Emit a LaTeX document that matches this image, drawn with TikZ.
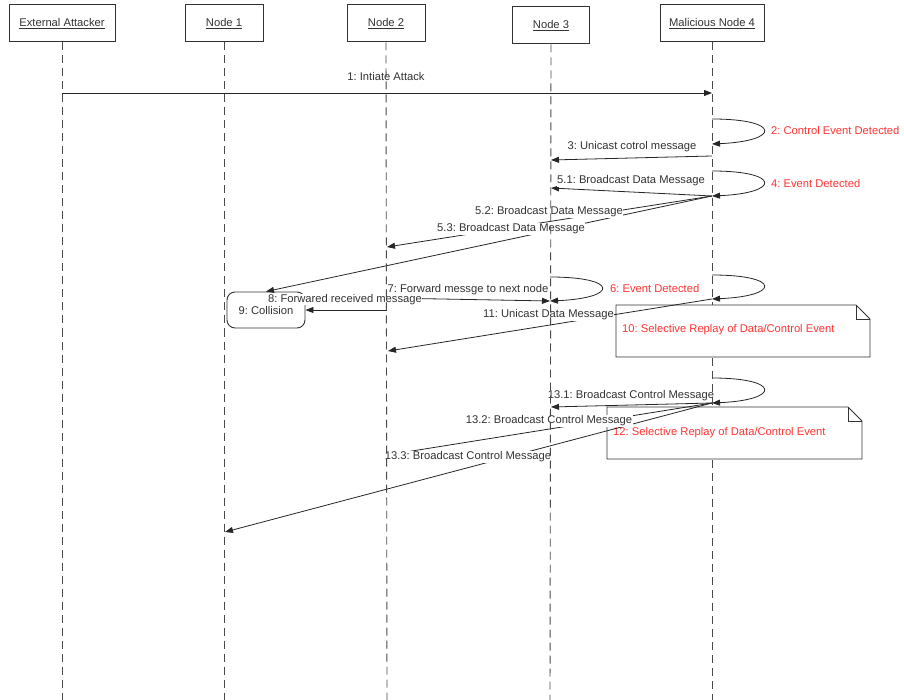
\documentclass[tikz,border=0pt]{standalone}
\usepackage{fontspec}
\setmainfont{Liberation Sans}
\usetikzlibrary{arrows.meta}
\definecolor{ink}{HTML}{333333}
\definecolor{alertred}{HTML}{FF3333}
\definecolor{lifegray}{HTML}{4A4A4A}
\newcommand{\dfont}{\fontsize{11.2}{13}\selectfont}
\frenchspacing
\tikzset{
  headbox/.style={draw=ink, line width=1pt, fill=white, minimum height=37pt, inner sep=0pt, font=\dfont, text=ink},
  lifeline/.style={draw=lifegray, line width=0.9pt, dash pattern=on 8pt off 5pt},
  msg/.style={draw=black!85, line width=0.8pt, -{Triangle[length=8pt,width=6pt]}},
  lbl/.style={fill=white, inner sep=0.6pt, font=\dfont, text=ink},
  evt/.style={font=\dfont, text=alertred, anchor=west, inner sep=0pt},
  notebox/.style={draw=ink, fill=white, line width=0.9pt},
  collbox/.style={draw=ink, fill=white, line width=0.9pt, rounded corners=8pt, minimum width=78pt, minimum height=36pt, inner sep=0pt, font=\dfont, text=ink},
}
\begin{document}
\begin{tikzpicture}[x=1pt,y=-1pt]
\useasboundingbox (0,0) rectangle (904,700);
% heads
\node[headbox, minimum width=106pt] (ea) at (62,23.5) {\underline{External Attacker}};
\node[headbox, minimum width=78pt] (na) at (224,23.5) {\underline{Node 1}};
\node[headbox, minimum width=78pt] (nb) at (386,23.5) {\underline{Node 2}};
\node[headbox, minimum width=77pt] (nc) at (551,25.5) {\underline{Node 3}};
\node[headbox, minimum width=104pt] (nd) at (712,23.5) {\underline{Malicious Node 4}};
% lifeline coordinates
\coordinate (eaEnd) at (62,700);
\coordinate (naEnd) at (224,700);
\coordinate (nbEnd) at (387,700);
\coordinate (ncEnd) at (550,700);
\coordinate (ndA) at (712,305);
\coordinate (ndB) at (712,358);
\coordinate (ndC) at (712,406);
\coordinate (ndD) at (712,460);
\coordinate (ndEnd) at (712,700);
% notes
\path[notebox] (616,305) -- (856,305) -- (870,319) -- (870,357) -- (616,357) -- cycle;
\draw[ink, line width=0.9pt] (856,305) -- (856,319) -- (870,319);
\node[evt] (t10) at (622,330) {10: Selective Replay of Data/Control Event};
\path[notebox] (607,407) -- (848,407) -- (862,421) -- (862,459) -- (607,459) -- cycle;
\draw[ink, line width=0.9pt] (848,407) -- (848,421) -- (862,421);
\node[evt] (t12) at (613,433) {12: Selective Replay of Data/Control Event};
% collision
\node[collbox] (coll) at (266,310) {9: Collision};
% message end points
\coordinate (a1) at (62,93);   \coordinate (d1) at (712,93);
\coordinate (d2s) at (712,119); \coordinate (d2e) at (712,144);
\coordinate (d3) at (712,156); \coordinate (c3) at (551,160);
\coordinate (d4s) at (712,171); \coordinate (d4e) at (712,196);
\coordinate (c51) at (551,188);
\coordinate (b52) at (387,247);
\coordinate (c6s) at (550,277); \coordinate (c6e) at (550,301);
\coordinate (d6s) at (712,275); \coordinate (d6e) at (712,299);
\coordinate (b7) at (387,298);
\coordinate (b8) at (387,310);
\coordinate (b11) at (388,351);
\coordinate (d13s) at (712,378); \coordinate (d13e) at (712,403);
\coordinate (c131) at (551,407);
\coordinate (b132) at (387,455);
\coordinate (a133) at (225,532);
% messages
\draw[msg] (a1) -- (d1);
\draw[msg] (d2s) .. controls (781,119) and (781,141) .. (d2e);
\draw[msg] (d3) -- (c3);
\draw[msg] (d4s) .. controls (781,171) and (781,193) .. (d4e);
\draw[msg] (d4e) -- (c51);
\draw[msg] (d4e) -- (b52);
\draw[msg] (d4e) -- (coll.north);
\draw[msg] (c6s) .. controls (619,277) and (619,298) .. (c6e);
\draw[msg] (d6s) .. controls (781,275) and (781,296) .. (d6e);
\draw[msg] (b7) -- (c6e);
\draw[msg] (b8) -- (coll.east);
\draw[msg] (d6e) -- (b11);
\draw[msg] (d13s) .. controls (781,378) and (781,400) .. (d13e);
\draw[msg] (d13e) -- (c131);
\draw[msg] (d13e) -- (b132);
\draw[msg] (d13e) -- (a133);
% labels
\node[lbl] (l1) at (386,77) {1: Intiate Attack};
\node[evt] (l2) at (771,131) {2: Control Event Detected};
\node[lbl] (l3) at (632,147) {3: Unicast cotrol message};
\node[evt] (l4) at (771,183) {4: Event Detected};
\node[lbl] (l51) at (631,181) {5.1: Broadcast Data Message};
\node[lbl] (l52) at (549,212) {5.2: Broadcast Data Message};
\node[lbl] (l53) at (511,229) {5.3: Broadcast Data Message};
\node[evt] (l6) at (610,288) {6: Event Detected};
\node[lbl] (l7) at (468,290) {7: Forward messge to next node};
\node[lbl] (l8) at (345,299.5) {8: Forwared received message};
\node[lbl] (l11) at (548.5,315) {11: Unicast Data Message};
\node[lbl] (l131) at (631,396) {13.1: Broadcast Control Message};
\node[lbl] (l132) at (549,421) {13.2: Broadcast Control Message};
\node[lbl] (l133) at (468,457) {13.3: Broadcast Control Message};
% lifelines
\draw[lifeline] (ea.south) -- (eaEnd);
\draw[lifeline] (na.south) -- (naEnd);
\draw[lifeline] (nb.south) -- (nbEnd);
\draw[lifeline] (nc.south) -- (ncEnd);
\draw[lifeline] (nd.south) -- (ndA);
\draw[lifeline] (ndB) -- (ndC);
\draw[lifeline] (ndD) -- (ndEnd);
\end{tikzpicture}
\end{document}
